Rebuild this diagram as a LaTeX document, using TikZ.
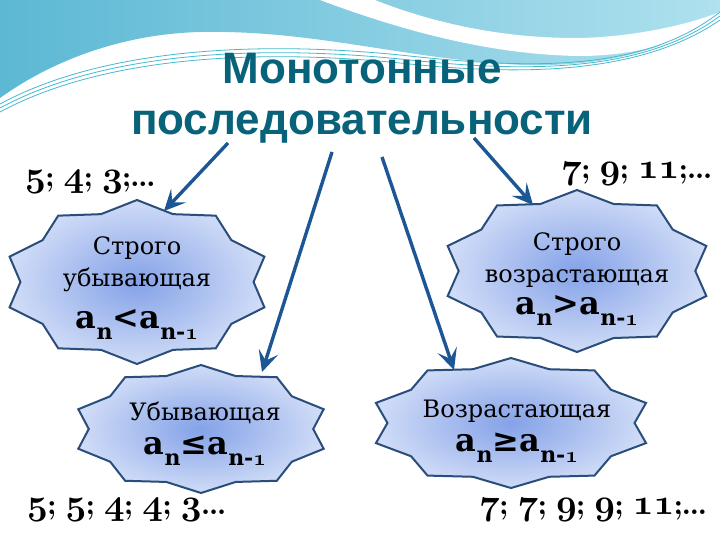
\documentclass[tikz,border=0pt]{standalone}
\usepackage{fontspec}
\setmainfont{DejaVu Serif}
\newfontfamily\titlefont{Liberation Sans}
\usetikzlibrary{arrows.meta}

\DeclareFontFamily{OML}{oldfig}{}
\DeclareFontShape{OML}{oldfig}{b}{it}{<->cmmib10}{}

\definecolor{titleteal}{RGB}{8,98,122}
\definecolor{arrowblue}{RGB}{28,86,148}
\definecolor{starline}{RGB}{42,78,124}
\definecolor{starmid}{RGB}{132,162,232}
\definecolor{staredge}{RGB}{208,220,247}
\definecolor{waveleft}{RGB}{92,184,212}
\definecolor{waveright}{RGB}{175,225,238}
\definecolor{wavestripe}{RGB}{70,185,205}

\newcommand\osf[1]{{\usefont{OML}{oldfig}{b}{it}#1}}
\newcommand\seqdig[1]{{\fontsize{36}{36}\usefont{OML}{oldfig}{b}{it}#1}}
\newcommand\seqfont{\fontfamily{lmr}\fontsize{29}{29}\selectfont\bfseries}
\newcommand\anrel[1]{{\fontsize{32}{32}\selectfont\bfseries a\raisebox{-11pt}{\fontsize{22}{22}\selectfont n}#1a\raisebox{-11pt}{\fontsize{22}{22}\selectfont n-\osf{1}}}}
\newcommand\tenstar[4]{\draw[starshape] plot[samples at={0,...,19}] ({#1+#3*(1-0.13*mod(\x,2))*cos(90+18*\x)},{#2-#4*(1-0.13*mod(\x,2))*sin(90+18*\x)}) -- cycle;}

\begin{document}
\begin{tikzpicture}[x=1pt,y=-1pt,
    starshape/.style={draw=starline,line width=2pt,inner color=starmid,outer color=staredge},
    arr/.style={draw=arrowblue,line width=3.4pt,-{Stealth[length=21pt,width=20pt,inset=9pt]}},
    seq/.style={anchor=base west,font=\seqfont,inner sep=0pt},
    startext/.style={align=center,font=\fontsize{24}{32}\selectfont,inner sep=0pt}]
\useasboundingbox (0,0) rectangle (720,540);
\fill[white] (0,0) rectangle (720,540);

\shade[left color=waveleft,right color=waveright] (0,0) -- (720,0) -- (720,18) .. controls (640,65) and (560,70) .. (480,62) .. controls (380,52) and (300,30) .. (200,32) .. controls (120,34) and (50,62) .. (0,98) -- cycle;
\fill[white] (320,0) .. controls (400,30) and (490,55) .. (580,56) .. controls (640,56) and (690,38) .. (720,22) -- (720,12) .. controls (680,28) and (620,38) .. (575,38) .. controls (490,38) and (420,18) .. (375,0) -- cycle;
\foreach \d in {0,4,8}
    \draw[wavestripe,line width=0.8pt] (0,104+\d) .. controls (100,50+\d) and (250,40+\d) .. (400,55+\d) .. controls (520,68+\d) and (640,75) .. (720,12+\d);

\node[align=center,text=titleteal,font=\titlefont\bfseries\fontsize{44}{51}\selectfont] (title) at (362,98) {Монотонные\\последовательности};

\tenstar{137}{282}{134}{82}
\tenstar{577}{271}{136}{81}
\tenstar{201}{429}{129}{64}
\tenstar{511}{423}{142}{65}

\node[startext] (su) at (137,288) {Строго\\убывающая\\[10pt]\anrel{<}};
\node[startext] (sv) at (577,279) {Строго\\возрастающая\\\anrel{>}};
\node[startext] (ub) at (205,434) {Убывающая\\[2pt]\anrel{≤}};
\node[startext] (vz) at (517,431) {Возрастающая\\[2pt]\anrel{≥}};

\node[seq] (seqsu) at (25,187) {\seqdig{5}; \seqdig{4}; \seqdig{3};...};
\node[seq] (seqsv) at (561,179) {\seqdig{7}; \seqdig{9}; \seqdig{11};...};
\node[seq] (sequb) at (27,514) {\seqdig{5}; \seqdig{5}; \seqdig{4}; \seqdig{4}; \seqdig{3}...};
\node[seq] (seqvz) at (479,514) {\seqdig{7}; \seqdig{7}; \seqdig{9}; \seqdig{9}; \seqdig{11};...};

\coordinate (fsu) at (228,143);
\coordinate (fub) at (332,152);
\coordinate (fvz) at (382,157);
\coordinate (fsv) at (474,138);
\coordinate (tsu) at (164,211);
\coordinate (tub) at (262,372);
\coordinate (tvz) at (454,370);
\coordinate (tsv) at (533,205);

\draw[arr] (fsu) -- (tsu);
\draw[arr] (fub) -- (tub);
\draw[arr] (fvz) -- (tvz);
\draw[arr] (fsv) -- (tsv);
\end{tikzpicture}
\end{document}
